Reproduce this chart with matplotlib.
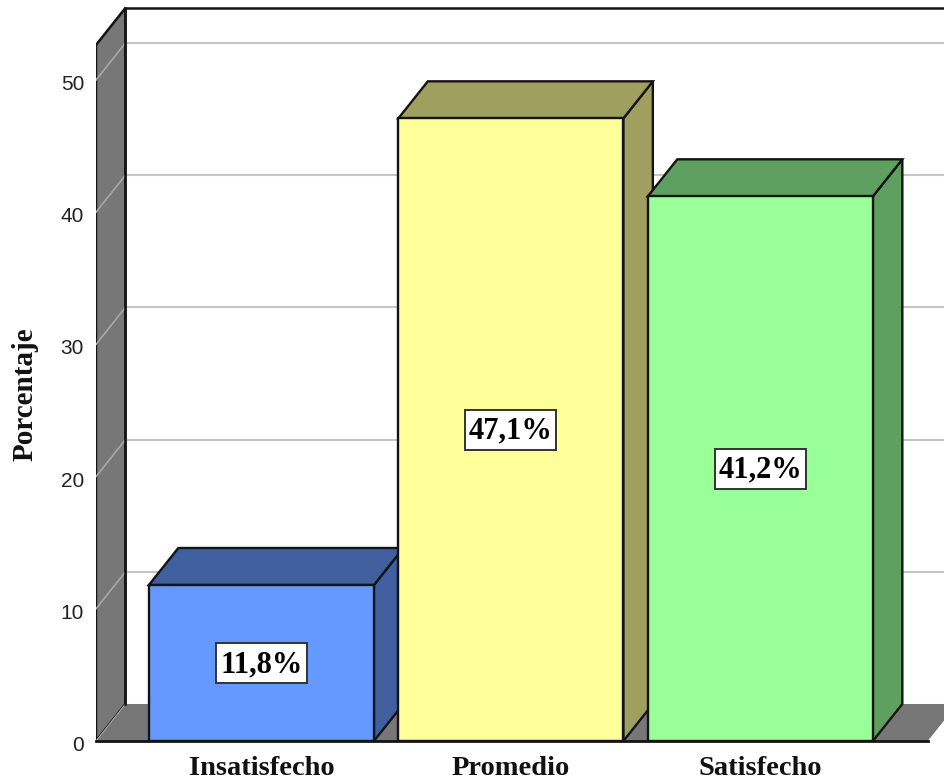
#!/usr/bin/env python3
import matplotlib
matplotlib.use('Agg')
import matplotlib.pyplot as plt
from matplotlib.patches import Polygon, Rectangle
from matplotlib.transforms import ScaledTranslation

categories = ['Insatisfecho', 'Promedio', 'Satisfecho']
values = [11.8, 47.1, 41.2]
value_labels = ['11,8%', '47,1%', '41,2%']
y_ticks = [0, 10, 20, 30, 40, 50]

front_colors = ['#6699FF', '#FFFF99', '#99FF99']
side_colors = ['#3F5F9F', '#9F9F5F', '#5F9F5F']

WALL = '#777777'
GRID = '#C4C4C4'
EDGE = '#141414'

# depth of the fake 3d box, in data units
DX = 0.118
DY = 2.8
BAR_W = 0.902
FRONT_TOP = 52.65
X_MIN, X_MAX = -0.663, 2.74
FLOOR_END = 2.671
# white box behind the value labels
BOX_W = 0.365
BOX_H = 3.05

fig = plt.figure(figsize=(9.45, 7.8), dpi=100)
ax = fig.add_axes([96 / 945, 39 / 780, 849 / 945, 741 / 780])
ax.set_xlim(X_MIN, X_MAX)
ax.set_ylim(0, 741 / 13.22)
for s in ax.spines.values():
    s.set_visible(False)

# left wall and floor
ax.add_patch(Polygon([(X_MIN, 0), (X_MIN + DX, DY), (X_MIN + DX, FRONT_TOP + DY), (X_MIN, FRONT_TOP)],
                     fc=WALL, ec=EDGE, lw=1.8, zorder=1))
ax.add_patch(Polygon([(X_MIN, 0), (X_MIN + DX, DY), (FLOOR_END + DX, DY), (FLOOR_END, 0)],
                     fc=WALL, ec='none', zorder=1))
ax.plot([X_MIN, FLOOR_END], [0, 0], color=EDGE, lw=2, zorder=1.2, clip_on=False)
ax.plot([X_MIN + DX, X_MAX], [FRONT_TOP + DY] * 2, color=EDGE, lw=1.8, zorder=1.2)
ax.plot([X_MIN + DX, X_MIN + DX], [DY, FRONT_TOP + DY], color=EDGE, lw=1.8, zorder=1.2)

# gridlines run along the back wall and down the left wall
for t in y_ticks[1:]:
    ax.plot([X_MIN, X_MIN + DX], [t, t + DY], color='#A8A8A8', lw=1.2, zorder=1.1)
    ax.plot([X_MIN + DX, X_MAX], [t + DY, t + DY], color=GRID, lw=1.5, zorder=0.9)
ax.plot([X_MIN, X_MIN + DX], [0, DY], color='#A8A8A8', lw=0.8, zorder=1.1)

# bars, left to right so each one covers the side of the previous
for i, (v, front, side) in enumerate(zip(values, front_colors, side_colors)):
    z = 2 + i
    l, r = i - BAR_W / 2, i + BAR_W / 2
    ax.add_patch(Polygon([(r, 0), (r + DX, DY), (r + DX, v + DY), (r, v)],
                         fc=side, ec=EDGE, lw=1.7, zorder=z))
    ax.add_patch(Polygon([(l, v), (l + DX, v + DY), (r + DX, v + DY), (r, v)],
                         fc=side, ec=EDGE, lw=1.7, zorder=z))
    ax.bar(i, v, width=BAR_W, color=front, edgecolor=EDGE, linewidth=1.7, zorder=z + 0.1)
    ax.add_patch(Rectangle((i - BOX_W / 2, v / 2 - BOX_H / 2), BOX_W, BOX_H,
                           fc='white', ec='#333333', lw=1.4, zorder=z + 0.2))
    ax.text(i, v / 2 - 0.12, value_labels[i], ha='center', va='center', zorder=z + 0.3,
            family='Liberation Serif', weight='bold', size=22, color='black')

ax.set_yticks(y_ticks)
ax.tick_params(axis='y', length=0, pad=8.6, labelsize=15, labelcolor='#222222')
for lab in ax.get_yticklabels():
    lab.set_family('Liberation Sans')
    lab.set_transform(lab.get_transform() + ScaledTranslation(0, -2.5 / 100, fig.dpi_scale_trans))

ax.set_xticks(range(len(categories)))
ax.set_xticklabels(categories, family='Liberation Serif', weight='bold', size=20.5, color='#111111')
ax.tick_params(axis='x', length=0, pad=10.5)

fig.text(25 / 945, 1 - 394 / 780, 'Porcentaje', rotation=90, ha='center', va='center',
         family='Liberation Serif', weight='bold', size=21, color='#111111')

fig.savefig('out.png', dpi=100)
